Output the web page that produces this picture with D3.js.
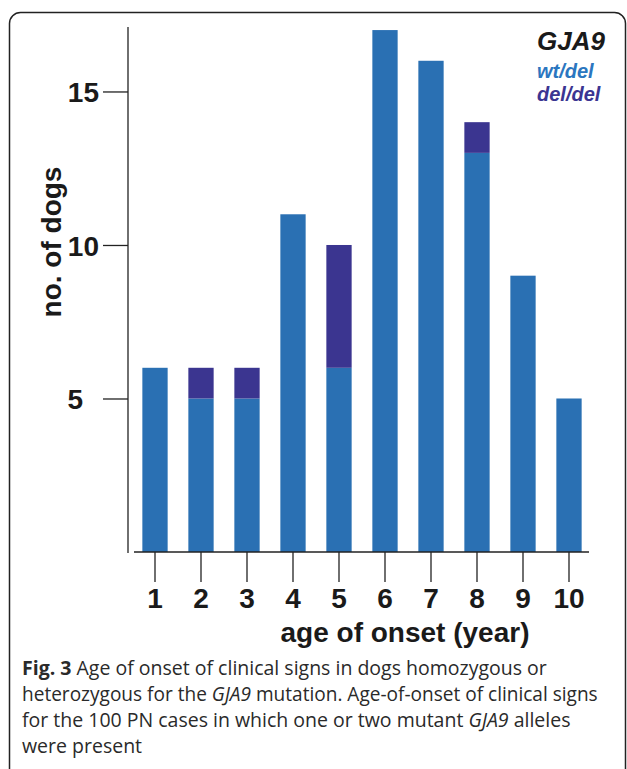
<!DOCTYPE html>
<html>
<head>
<meta charset="utf-8">
<script src="https://cdn.jsdelivr.net/npm/d3@7"></script>
<style>
  body { margin: 0; background: #fff; }
  svg { display: block; }
  .axis text { font-family: 'Liberation Sans', Arial, sans-serif; font-weight: bold; font-size: 28px; fill: #1a1a1a; }
  .axis path, .axis line { stroke: #222; stroke-width: 1.3; }
  .title { font-family: 'Liberation Sans', Arial, sans-serif; font-weight: bold; font-size: 28px; fill: #1a1a1a; }
  .legend { font-family: 'Liberation Sans', Arial, sans-serif; font-weight: bold; font-style: italic; }
  .caption { font-family: 'Open Sans', sans-serif; font-size: 19.5px; fill: #2a2a2a; }
</style>
</head>
<body>
<script>
var ages = ['1', '2', '3', '4', '5', '6', '7', '8', '9', '10']
var wtDel = [6, 5, 5, 11, 6, 17, 16, 13, 9, 5]
var delDel = [0, 1, 1, 0, 4, 0, 0, 1, 0, 0]
var yTicks = [5, 10, 15]
var seriesKeys = ['wtDel', 'delDel']
var seriesLabels = ['wt/del', 'del/del']

var width = 627
var height = 769

var color = d3.scaleOrdinal()
    .domain(seriesKeys)
    .range(['#2a70b3', '#3b3590'])

var rows = ages.map(function(a, i) {
    return { age: a, wtDel: wtDel[i], delDel: delDel[i] }
})

var x = d3.scaleBand()
    .domain(ages)
    .range([132, 592])
    .paddingInner(0.45)
    .paddingOuter(0.225)

var y = d3.scaleLinear()
    .domain([0, 17.1])
    .range([552, 27])

var svg = d3.select('body').append('svg')
    .attr('width', width)
    .attr('height', height)

// frame round figure + caption
svg.append('rect')
    .attr('x', 9.5)
    .attr('y', 12.5)
    .attr('width', 616)
    .attr('height', 800)
    .attr('rx', 11)
    .attr('fill', 'none')
    .attr('stroke', '#222')
    .attr('stroke-width', 1.5)

var stacked = d3.stack().keys(seriesKeys)(rows)

svg.append('g')
    .selectAll('g')
    .data(stacked)
    .enter().append('g')
    .attr('fill', function(d) { return color(d.key) })
    .selectAll('rect')
    .data(function(d) { return d.filter(function(s) { return s[1] > s[0] }) })
    .enter().append('rect')
    .attr('x', function(d) { return x(d.data.age) })
    .attr('y', function(d) { return y(d[1]) })
    .attr('width', x.bandwidth())
    .attr('height', function(d) { return y(d[0]) - y(d[1]) })

// y axis
var yAxis = svg.append('g')
    .attr('class', 'axis')
    .attr('transform', 'translate(128,0)')
    .call(d3.axisLeft(y).tickValues(yTicks).tickSize(25).tickSizeOuter(0).tickFormat(d3.format('d')))
yAxis.select('.domain').attr('d', 'M0,' + y.range()[1] + 'V' + (y.range()[0] + 1))
yAxis.selectAll('.tick text')
    .attr('x', function(d) { return d === 5 ? -45 : -29 })
    .attr('dy', '0.36em')

// x axis
var xAxis = svg.append('g')
    .attr('class', 'axis')
    .attr('transform', 'translate(0,' + y(0) + ')')
    .call(d3.axisBottom(x).tickSize(30).tickSizeOuter(0))
xAxis.select('.domain').attr('d', 'M134,0H589')
xAxis.selectAll('.tick text')
    .attr('y', 56)
    .attr('dy', 0)

svg.append('text')
    .attr('class', 'title')
    .attr('x', 405)
    .attr('y', 642)
    .attr('text-anchor', 'middle')
    .text('age of onset (year)')

svg.append('text')
    .attr('class', 'title')
    .attr('transform', 'translate(61,242) rotate(-90)')
    .attr('text-anchor', 'middle')
    .text('no. of dogs')

// legend
var legend = svg.append('g').attr('class', 'legend').attr('transform', 'translate(537,0)')
legend.append('text')
    .attr('y', 50)
    .attr('font-size', 26)
    .attr('fill', '#1a1a1a')
    .text('GJA9')
legend.selectAll('.item')
    .data(seriesKeys)
    .enter().append('text')
    .attr('class', 'item')
    .attr('y', function(d, i) { return 78 + i * 23 })
    .attr('font-size', 20)
    .attr('fill', function(d, i) { return i === 0 ? '#2b76c0' : '#3b3592' })
    .text(function(d, i) { return seriesLabels[i] })

// caption
var captionLines = [
    [['Fig. 3', 'b'], [' Age of onset of clinical signs in dogs homozygous or', '']],
    [['heterozygous for the ', ''], ['GJA9', 'i'], [' mutation. Age-of-onset of clinical signs', '']],
    [['for the 100 PN cases in which one or two mutant ', ''], ['GJA9', 'i'], [' alleles', '']],
    [['were present', '']]
]
var maxLine = 576
captionLines.forEach(function(line, i) {
    var t = svg.append('text')
        .attr('class', 'caption')
        .attr('x', 22)
        .attr('y', 675 + i * 26)
    line.forEach(function(part) {
        var s = t.append('tspan').text(part[0])
        if (part[1] === 'b') s.attr('font-weight', 'bold')
        if (part[1] === 'i') s.attr('font-style', 'italic')
    })
    // shrink long lines a little so they stay inside the frame
    var w = t.node().getComputedTextLength()
    if (w > maxLine) t.style('font-size', (19.5 * maxLine / w) + 'px')
})
</script>
</body>
</html>
